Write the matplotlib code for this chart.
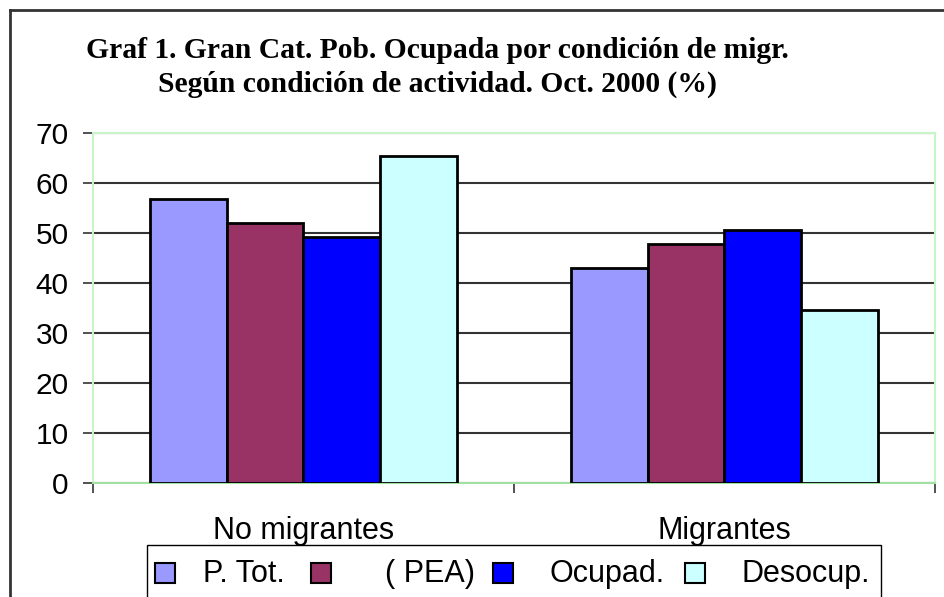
import matplotlib
matplotlib.use("Agg")
import matplotlib.pyplot as plt
from matplotlib.patches import Rectangle
from matplotlib.lines import Line2D
import numpy as np

categories = ["No migrantes", "Migrantes"]
series_names = ["P. Tot.", "( PEA)", "Ocupad.", "Desocup."]
p_tot = [56.9, 43.1]
pea = [52.1, 47.9]
ocupad = [49.3, 50.7]
desocup = [65.4, 34.6]
series_values = [p_tot, pea, ocupad, desocup]
colors = ["#9999FF", "#993366", "#0000FF", "#CCFFFF"]
yticks = [0, 10, 20, 30, 40, 50, 60, 70]
title_lines = ["Graf 1. Gran Cat. Pob. Ocupada por condición de migr.",
               "Según condición de actividad. Oct. 2000 (%)"]

W, H = 945, 597
fig = plt.figure(figsize=(W / 100, H / 100), dpi=100)

def fx(px):
    return px / W

def fy(py):
    return 1 - py / H

ax = fig.add_axes([fx(93), fy(483), fx(935) - fx(93), fy(133) - fy(483)])

x = np.arange(len(categories))
bw = 0.182
n = len(series_values)
for i, (vals, col) in enumerate(zip(series_values, colors)):
    offs = (i - (n - 1) / 2) * bw
    ax.bar(x + offs, vals, width=bw, color=col, edgecolor="black",
           linewidth=2, zorder=3)

ax.set_xlim(-0.5, 1.5)
ax.set_ylim(0, 70)
ax.set_yticks(yticks)
ax.set_yticklabels([str(t) for t in yticks], fontsize=21.5,
                   family="Liberation Sans")
ax.yaxis.grid(True, color="#333333", linewidth=1.5, zorder=0)
ax.set_axisbelow(True)
ax.tick_params(axis="y", direction="out", length=7.5, width=1.2,
               color="#333333", pad=10)

ax.set_xticks([-0.5, 0.5, 1.5])
ax.set_xticklabels(["", "", ""])
ax.tick_params(axis="x", which="major", direction="out", length=7.5,
               width=1.2, color="#333333")
ax.set_xticks(x, minor=True)
ax.set_xticklabels(categories, minor=True, fontsize=22,
                   family="Liberation Sans")
ax.tick_params(axis="x", which="minor", length=0, pad=23.5)

for s in ax.spines.values():
    s.set_color("#c8f5c8")
    s.set_linewidth(1.5)
ax.spines["bottom"].set_color("#a0e0a0")

# Title
fig.text(fx(437), fy(58), title_lines[0], ha="center", va="baseline",
         fontsize=21.3, fontweight="bold", family="Liberation Serif")
fig.text(fx(437), fy(92), title_lines[1], ha="center", va="baseline",
         fontsize=21.3, fontweight="bold", family="Liberation Serif")

# Outer frame (chart area border)
fig.add_artist(Line2D([fx(10), fx(10)], [fy(10), fy(600)], color="#333333",
                      linewidth=2))
fig.add_artist(Line2D([fx(10), fx(950)], [fy(10), fy(10)], color="#333333",
                      linewidth=2))

# Legend
fig.add_artist(Rectangle((fx(147), fy(600)), fx(881) - fx(147),
                         fy(545) - fy(600), transform=fig.transFigure,
                         facecolor="white", edgecolor="black", linewidth=1))
handle_x = [155, 311, 493, 685]
text_x = [203, 385, 550, 742]
for name, col, hx, tx in zip(series_names, colors, handle_x, text_x):
    fig.add_artist(Rectangle((fx(hx), fy(583)), fx(20), fy(563) - fy(583),
                             transform=fig.transFigure, facecolor=col,
                             edgecolor="black", linewidth=1.5))
    fig.text(fx(tx), fy(582), name, ha="left", va="baseline", fontsize=22,
             family="Liberation Sans")

fig.savefig("out.png", dpi=100)
